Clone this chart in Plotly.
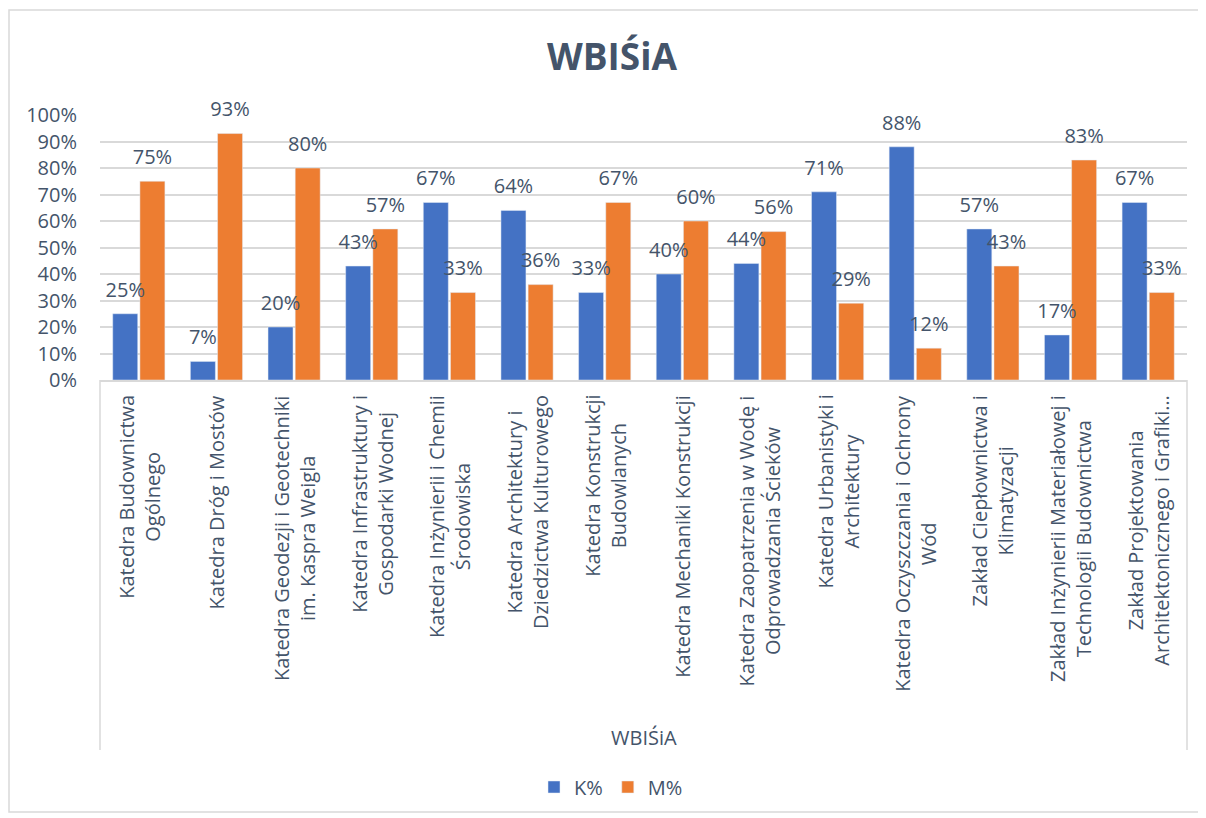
import plotly.graph_objects as go

departments = [
    "Katedra Budownictwa<br>Ogólnego",
    "Katedra Dróg i Mostów",
    "Katedra Geodezji i Geotechniki<br>im. Kaspra Weigla",
    "Katedra Infrastruktury i<br>Gospodarki Wodnej",
    "Katedra Inżynierii i Chemii<br>Środowiska",
    "Katedra Architektury i<br>Dziedzictwa Kulturowego",
    "Katedra Konstrukcji<br>Budowlanych",
    "Katedra Mechaniki Konstrukcji",
    "Katedra Zaopatrzenia w Wodę i<br>Odprowadzania Ścieków",
    "Katedra Urbanistyki i<br>Architektury",
    "Katedra Oczyszczania i Ochrony<br>Wód",
    "Zakład Ciepłownictwa i<br>Klimatyzacji",
    "Zakład Inżynierii Materiałowej i<br>Technologii Budownictwa",
    "Zakład Projektowania<br>Architektonicznego i Grafiki…",
]
k_pct = [25, 7, 20, 43, 67, 64, 33, 40, 44, 71, 88, 57, 17, 67]
m_pct = [75, 93, 80, 57, 33, 36, 67, 60, 56, 29, 12, 43, 83, 33]
y_ticks = list(range(0, 101, 10))

TEXT = "#44546A"
GRID = "#D9D9D9"
FONT = "Open Sans"
BLUE = "#4472C4"
ORANGE = "#ED7D31"

# page body has an 8px margin, so the figure is a bit smaller than the window
OFF = 8
W, H = 1206 - OFF, 818 - OFF
L, T = 100 - OFF, 115 - OFF
R = W - (1187 - OFF)
B = H - (380 - OFF)
pw, ph = W - L - R, H - T - B


def px_x(x):
    # window pixel -> paper fraction
    return (x - OFF - L) / pw


def px_y(y):
    return (H - B - (y - OFF)) / ph


cat_idx = list(range(len(departments)))
k_frac = [v / 100 for v in k_pct]
m_frac = [v / 100 for v in m_pct]

fig = go.Figure()
for name, vals, pct, color in (("K%", k_frac, k_pct, BLUE), ("M%", m_frac, m_pct, ORANGE)):
    fig.add_trace(go.Bar(
        x=cat_idx, y=vals, name=name, marker_color=color,
        offsetgroup=name, hoverinfo="skip",
    ))
    # data labels, lifted a little above the bars like Excel does
    fig.add_trace(go.Scatter(
        x=cat_idx, y=vals, mode="markers+text", offsetgroup=name,
        marker=dict(size=18, opacity=0), showlegend=False,
        text=[f"{v}%" for v in pct], textposition="top center",
        textfont=dict(size=20, color=TEXT, family=FONT),
        cliponaxis=False, hoverinfo="skip",
    ))

# category labels, rotated, lines centred like in Excel
for i, name in enumerate(departments):
    fig.add_annotation(
        x=i, xref="x", y=0, yref="y", yanchor="top", xanchor="center",
        yshift=-13, text=name, textangle=-90, align="center",
        showarrow=False, font=dict(size=20, color=TEXT, family=FONT),
    )

# axis group title
fig.add_annotation(
    x=0.5, xref="x domain", y=px_y(737), yref="paper",
    text="WBIŚiA", showarrow=False, yanchor="middle",
    font=dict(size=20, color=TEXT, family=FONT),
)

# outer chart border and category box lines
fig.add_shape(type="rect", xref="paper", yref="paper",
              x0=px_x(9), x1=px_x(1200), y0=px_y(812), y1=px_y(10),
              line=dict(color=GRID, width=1.5), layer="below")
for xd in (0, 1):
    fig.add_shape(type="line", xref="x domain", yref="paper",
                  x0=xd, x1=xd, y0=0, y1=px_y(750),
                  line=dict(color=GRID, width=1.5))

fig.update_layout(
    width=W, height=H,
    margin=dict(l=L, r=R, t=T, b=B),
    paper_bgcolor="white", plot_bgcolor="white",
    font=dict(family=FONT, color=TEXT, size=20),
    title=dict(text="<b>WBIŚiA</b>", x=(612 - OFF) / W, xanchor="center",
               y=1 - (57 - OFF) / H, yanchor="middle",
               font=dict(size=37, color=TEXT, family=FONT)),
    barmode="group", bargap=0.3, bargroupgap=0.08,
    scattermode="group", scattergap=0.3,
    showlegend=True,
    legend=dict(orientation="h", x=px_x(611), xanchor="center",
                y=px_y(787), yanchor="middle",
                font=dict(size=20, color=TEXT, family=FONT),
                itemwidth=30, tracegroupgap=0),
    xaxis=dict(range=[-0.5, len(departments) - 0.5], showticklabels=False,
               showgrid=False, showline=True, linecolor=GRID, linewidth=1.5,
               zeroline=False, ticks=""),
    yaxis=dict(range=[0, 1], tickvals=[v / 100 for v in y_ticks],
               ticktext=[f"{v}%" for v in y_ticks],
               showgrid=True, gridcolor=GRID, gridwidth=1.5,
               zeroline=False, showline=False, ticks="",
               tickfont=dict(size=20, color=TEXT, family=FONT),
               ticklabelstandoff=22),
)

fig.write_html("out.html")
